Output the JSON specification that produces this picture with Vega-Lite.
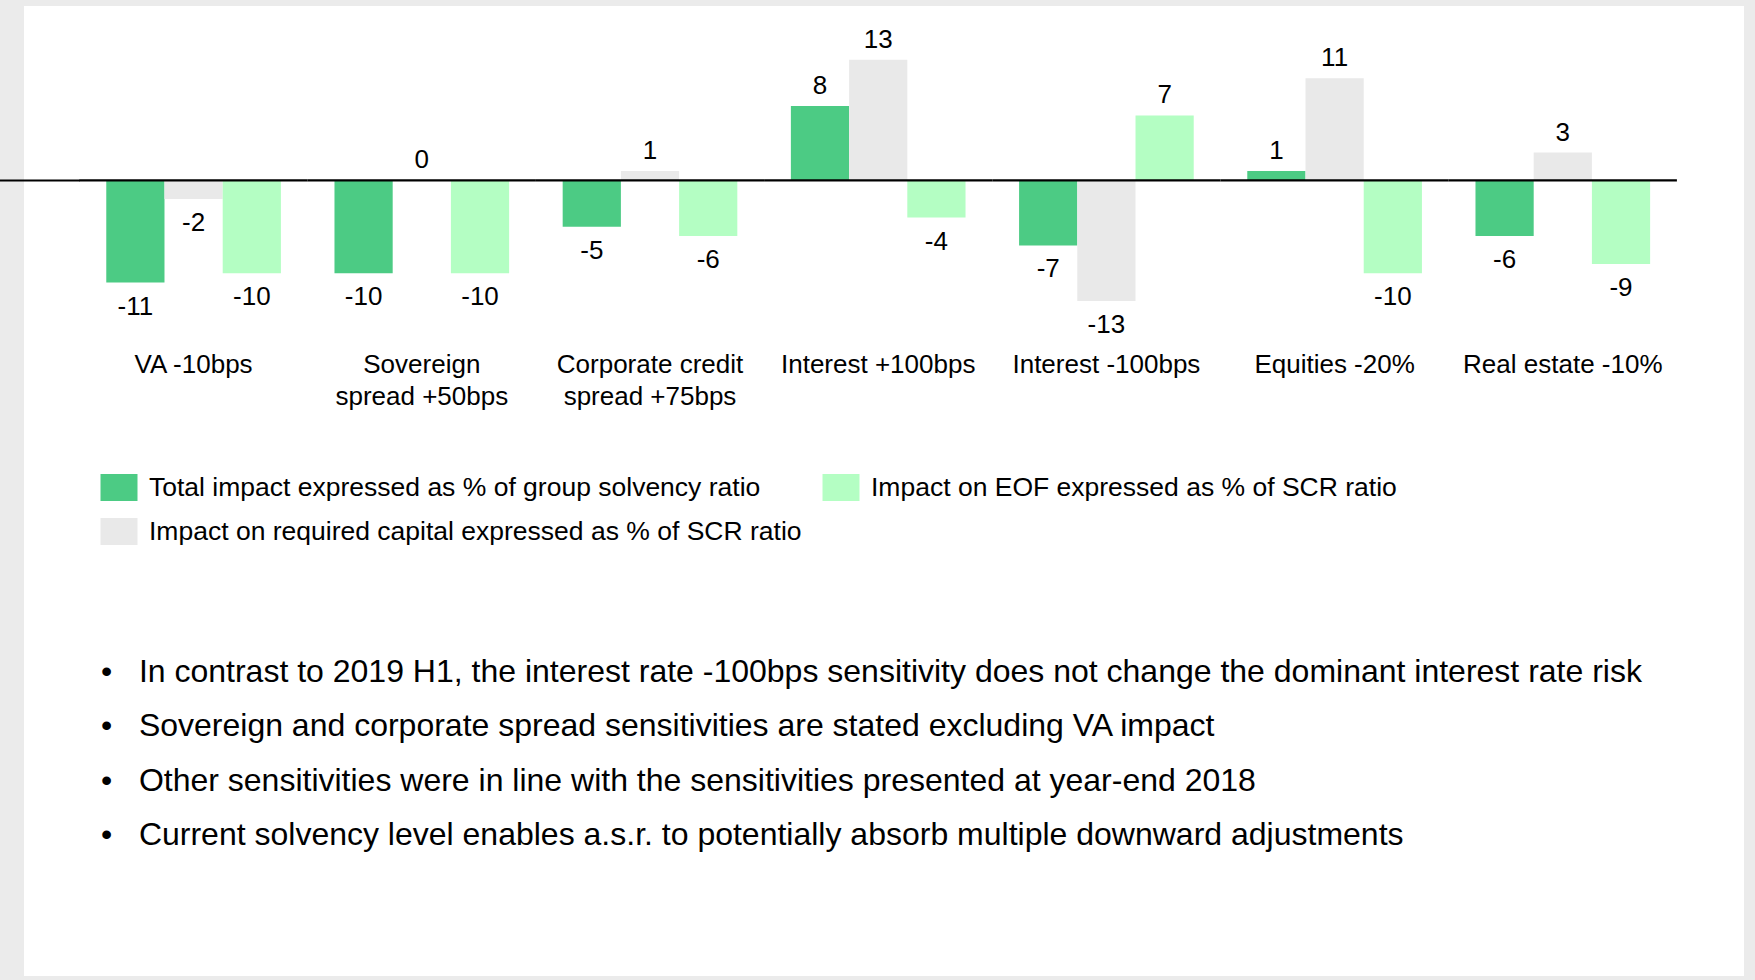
{
  "$schema": "https://vega.github.io/schema/vega-lite/v6.json",
  "autosize": {"type": "none"},
  "width": 1720,
  "height": 970,
  "padding": {"left": 24, "top": 6, "right": 11, "bottom": 4},
  "background": "#EBEBEB",
  "config": {"font": "Liberation Sans", "view": {"stroke": null, "fill": "#FFFFFF"}},
  "title": {
    "text": [
      "•\u00a0\u00a0\u00a0In contrast to 2019 H1, the interest rate -100bps sensitivity does not change the dominant interest rate risk",
      "•\u00a0\u00a0\u00a0Sovereign and corporate spread sensitivities are stated excluding VA impact",
      "•\u00a0\u00a0\u00a0Other sensitivities were in line with the sensitivities presented at year-end 2018",
      "•\u00a0\u00a0\u00a0Current solvency level enables a.s.r. to potentially absorb multiple downward adjustments"
    ],
    "orient": "bottom",
    "anchor": "start",
    "frame": "group",
    "font": "Liberation Sans",
    "fontSize": 32,
    "fontWeight": "normal",
    "color": "#000000",
    "lineHeight": 54.4,
    "dx": 77,
    "offset": -319
  },
  "data": {
    "values": [
      {"category": "VA -10bps", "series": "Total impact expressed as % of group solvency ratio", "value": -11},
      {"category": "VA -10bps", "series": "Impact on required capital expressed as % of SCR ratio", "value": -2},
      {"category": "VA -10bps", "series": "Impact on EOF expressed as % of SCR ratio", "value": -10},
      {"category": "Sovereign spread +50bps", "series": "Total impact expressed as % of group solvency ratio", "value": -10},
      {"category": "Sovereign spread +50bps", "series": "Impact on required capital expressed as % of SCR ratio", "value": 0},
      {"category": "Sovereign spread +50bps", "series": "Impact on EOF expressed as % of SCR ratio", "value": -10},
      {"category": "Corporate credit spread +75bps", "series": "Total impact expressed as % of group solvency ratio", "value": -5},
      {"category": "Corporate credit spread +75bps", "series": "Impact on required capital expressed as % of SCR ratio", "value": 1},
      {"category": "Corporate credit spread +75bps", "series": "Impact on EOF expressed as % of SCR ratio", "value": -6},
      {"category": "Interest +100bps", "series": "Total impact expressed as % of group solvency ratio", "value": 8},
      {"category": "Interest +100bps", "series": "Impact on required capital expressed as % of SCR ratio", "value": 13},
      {"category": "Interest +100bps", "series": "Impact on EOF expressed as % of SCR ratio", "value": -4},
      {"category": "Interest -100bps", "series": "Total impact expressed as % of group solvency ratio", "value": -7},
      {"category": "Interest -100bps", "series": "Impact on required capital expressed as % of SCR ratio", "value": -13},
      {"category": "Interest -100bps", "series": "Impact on EOF expressed as % of SCR ratio", "value": 7},
      {"category": "Equities -20%", "series": "Total impact expressed as % of group solvency ratio", "value": 1},
      {"category": "Equities -20%", "series": "Impact on required capital expressed as % of SCR ratio", "value": 11},
      {"category": "Equities -20%", "series": "Impact on EOF expressed as % of SCR ratio", "value": -10},
      {"category": "Real estate -10%", "series": "Total impact expressed as % of group solvency ratio", "value": -6},
      {"category": "Real estate -10%", "series": "Impact on required capital expressed as % of SCR ratio", "value": 3},
      {"category": "Real estate -10%", "series": "Impact on EOF expressed as % of SCR ratio", "value": -9}
    ]
  },
  "layer": [
    {
      "mark": {"type": "bar"},
      "encoding": {
        "x": {
          "field": "category", "type": "nominal", "sort": null,
          "scale": {"paddingInner": 0, "paddingOuter": 0.2686, "align": 0.4527},
          "axis": {
            "title": null, "domain": false, "ticks": false, "offset": -647,
            "labelFontSize": 26, "labelColor": "#000000", "labelFont": "Liberation Sans",
            "labelPadding": 22, "labelAngle": 0, "labelBaseline": "top",
            "labelLimit": 1000, "labelOverlap": false, "labelBound": false, "labelLineHeight": 32,
            "labelExpr": "datum.label == 'Sovereign spread +50bps' ? ['Sovereign', 'spread +50bps'] : datum.label == 'Corporate credit spread +75bps' ? ['Corporate credit', 'spread +75bps'] : datum.label"
          }
        },
        "xOffset": {
          "field": "series", "type": "nominal",
          "sort": ["Total impact expressed as % of group solvency ratio", "Impact on required capital expressed as % of SCR ratio", "Impact on EOF expressed as % of SCR ratio"],
          "scale": {"paddingInner": 0, "paddingOuter": 0.46}
        },
        "y": {
          "field": "value", "type": "quantitative",
          "scale": {"domain": [-85.68, 18.78], "nice": false, "zero": false},
          "axis": {"title": null, "values": [0], "labels": false, "domain": false, "grid": false, "offset": -55.5, "tickSize": 80, "tickColor": "#000000", "tickWidth": 2}
        },
        "color": {
          "field": "series", "type": "nominal",
          "scale": {
            "domain": ["Total impact expressed as % of group solvency ratio", "Impact on required capital expressed as % of SCR ratio", "Impact on EOF expressed as % of SCR ratio"],
            "range": ["#4CCB84", "#E9E9E9", "#B4FEC3"]
          },
          "legend": {
            "title": null, "orient": "none", "legendX": 81.5, "legendY": 468,
            "columns": 2, "padding": 0,
            "symbolType": "M-1.37,-1H1.37V1H-1.37Z", "symbolSize": 729,
            "symbolStrokeWidth": 0, "symbolOpacity": 1,
            "labelFontSize": 26.5, "labelColor": "#000000", "labelFont": "Liberation Sans",
            "labelOffset": 16.5, "labelLimit": 1000, "columnPadding": 20, "rowPadding": 17
          }
        }
      }
    },
    {
      "transform": [{"filter": "datum.value >= 0"}],
      "mark": {"type": "text", "baseline": "bottom", "dy": -7, "fontSize": 26, "color": "#000000"},
      "encoding": {
        "x": {"field": "category", "type": "nominal", "sort": null},
        "xOffset": {"field": "series", "type": "nominal", "sort": ["Total impact expressed as % of group solvency ratio", "Impact on required capital expressed as % of SCR ratio", "Impact on EOF expressed as % of SCR ratio"]},
        "y": {"field": "value", "type": "quantitative"},
        "text": {"field": "value", "type": "nominal"}
      }
    },
    {
      "transform": [{"filter": "datum.value < 0"}],
      "mark": {"type": "text", "baseline": "top", "dy": 11, "fontSize": 26, "color": "#000000"},
      "encoding": {
        "x": {"field": "category", "type": "nominal", "sort": null},
        "xOffset": {"field": "series", "type": "nominal", "sort": ["Total impact expressed as % of group solvency ratio", "Impact on required capital expressed as % of SCR ratio", "Impact on EOF expressed as % of SCR ratio"]},
        "y": {"field": "value", "type": "quantitative"},
        "text": {"field": "value", "type": "nominal"}
      }
    },
    {
      "data": {"values": [
        {"category": "VA -10bps"},
        {"category": "Sovereign spread +50bps"},
        {"category": "Corporate credit spread +75bps"},
        {"category": "Interest +100bps"},
        {"category": "Interest -100bps"},
        {"category": "Equities -20%"},
        {"category": "Real estate -10%"}
      ]},
      "mark": {"type": "bar", "color": "#000000"},
      "encoding": {
        "x": {"field": "category", "type": "nominal", "sort": null},
        "y": {"datum": 0.11, "type": "quantitative"},
        "y2": {"datum": -0.11}
      }
    }
  ]
}
